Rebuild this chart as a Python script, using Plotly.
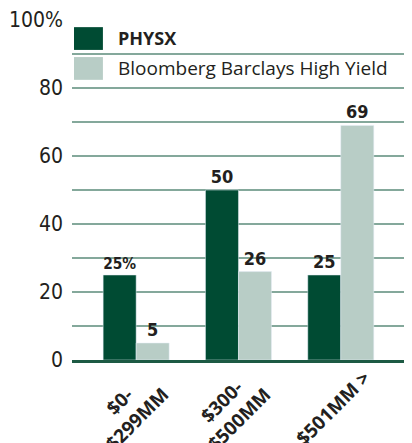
import plotly.graph_objects as go

categories = ["$0-<br>$299MM", "$300-<br>$500MM", "$501MM >"]
physx = [25, 50, 25]
bbhy = [5, 26, 69]
physx_text = ["25%", "50", "25"]
bbhy_text = ["5", "26", "69"]
ytick_vals = [0, 20, 40, 60, 80, 100]
ytick_text = ["0", "20", "40", "60", "80", "100%"]

DARK = "#004b33"
LIGHT = "#b8cdc6"
TXT = "#231f20"
GRID = "#84a89b"
NARROW = "Liberation Sans Narrow, DejaVu Sans Condensed, Arial Narrow, sans-serif"

fig = go.Figure()
fig.add_trace(go.Bar(x=categories, y=physx, name="PHYSX", marker_color=DARK,
                     text=physx_text, textposition="outside", cliponaxis=False,
                     textfont=dict(family=NARROW, size=18, color=TXT, weight="bold")))
fig.add_trace(go.Bar(x=categories, y=bbhy, name="Bloomberg Barclays High Yield", marker_color=LIGHT,
                     text=bbhy_text, textposition="outside", cliponaxis=False,
                     textfont=dict(family=NARROW, size=18, color=TXT, weight="bold")))

# custom legend
fig.add_shape(type="rect", xref="paper", yref="paper", x0=0.006, x1=0.092, y0=0.912, y1=0.979,
              fillcolor=DARK, line_width=0)
fig.add_shape(type="rect", xref="paper", yref="paper", x0=0.006, x1=0.092, y0=0.824, y1=0.891,
              fillcolor=LIGHT, line_width=0)
fig.add_annotation(xref="paper", yref="paper", x=0.131, y=0.946, text="<b>PHYSX</b>",
                   showarrow=False, xanchor="left", yanchor="middle",
                   font=dict(family="Open Sans", size=18, color=TXT))
fig.add_annotation(xref="paper", yref="paper", x=0.131, y=0.858, text="Bloomberg Barclays High Yield",
                   showarrow=False, xanchor="left", yanchor="middle",
                   font=dict(family="Open Sans", size=19, color=TXT))

# rotated, centre-aligned category labels
for cat in categories:
    fig.add_annotation(xref="x", yref="paper", x=cat, y=0, text=f"<b>{cat}</b>",
                       showarrow=False, textangle=-45, align="center",
                       xanchor="center", yanchor="top", xshift=-8, yshift=-2,
                       font=dict(family="Open Sans", size=19, color=TXT))

# page body adds an 8px offset, so the figure is drawn 8px smaller with margins compensated
fig.update_layout(
    width=404, height=435,
    margin=dict(l=64, r=4, t=12, b=83, autoexpand=False),
    paper_bgcolor="white", plot_bgcolor="white",
    barmode="group", bargap=0.355, bargroupgap=0,
    showlegend=False,
    xaxis=dict(range=[-0.627, 2.657], showline=True, linecolor="#1d5a44", linewidth=3,
               showticklabels=False, ticks="", showgrid=False, automargin=False),
    yaxis=dict(range=[0, 100], tickvals=ytick_vals, ticktext=ytick_text,
               showgrid=True, gridcolor=GRID, gridwidth=1.5, zeroline=False,
               minor=dict(dtick=10, tick0=0, showgrid=True, gridcolor=GRID, gridwidth=1.5),
               ticks="", ticklabelstandoff=8, automargin=False,
               tickfont=dict(family=NARROW, size=21, color=TXT)),
)

fig.write_html("out.html")
